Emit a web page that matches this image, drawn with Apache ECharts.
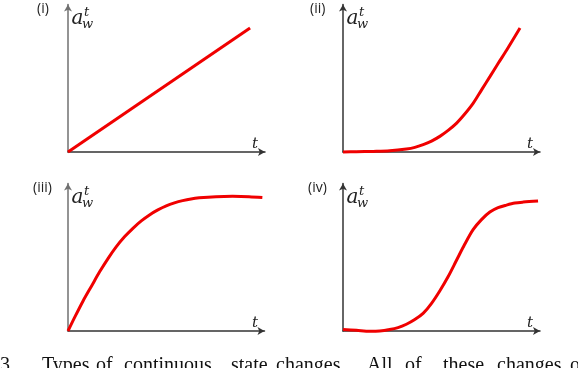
<!DOCTYPE html>
<html><head><meta charset="utf-8">
<script src="https://cdn.jsdelivr.net/npm/echarts@6/dist/echarts.min.js"></script>
<style>html,body{margin:0;padding:0;background:#fff}#c{width:578px;height:368px}</style>
</head><body><div id="c"></div>
<script>
// ---- data ----
const panelLabels = ['(i)', '(ii)', '(iii)', '(iv)'];
const xAxisName = 't';
// (i) linear
const p1T = [0, 10];
const p1A = [0, 1];
// (ii) accelerating
const p2T = [0, 0.75, 1.7, 2.64, 3.58, 4.06, 4.53, 5.0, 5.47, 5.94, 6.42, 6.89, 7.36, 7.83, 8.30, 8.77, 9.25, 10];
const p2A = [0, 0.002, 0.005, 0.010, 0.024, 0.037, 0.059, 0.088, 0.126, 0.174, 0.233, 0.308, 0.394, 0.501, 0.608, 0.716, 0.823, 1.0];
// (iii) saturating
const p3T = [0, 0.36, 0.78, 1.21, 1.63, 2.06, 2.48, 2.91, 3.33, 3.76, 4.18, 4.61, 5.04, 5.46, 5.88, 6.31, 6.73, 7.59, 8.44, 9.29, 9.97];
const p3A = [0, 0.107, 0.226, 0.336, 0.443, 0.542, 0.629, 0.704, 0.766, 0.821, 0.866, 0.903, 0.933, 0.955, 0.972, 0.985, 0.993, 1.002, 1.005, 1.002, 0.995];
// (iv) sigmoid
const p4T = [0, 0.69, 1.37, 1.88, 2.39, 2.82, 3.25, 3.68, 4.12, 4.53, 4.96, 5.40, 5.82, 6.24, 6.67, 7.10, 7.53, 7.95, 8.38, 8.81, 9.24, 10];
const p4A = [0.011, 0.005, -0.002, 0.0, 0.011, 0.026, 0.052, 0.088, 0.138, 0.211, 0.308, 0.421, 0.544, 0.667, 0.78, 0.857, 0.915, 0.949, 0.969, 0.985, 0.992, 1.0];
const captionWords = ['3', 'Types', 'of', 'continuous', 'state', 'changes.', 'All', 'of', 'these', 'changes', 'o'];

// ---- layout ----
const panels = [
  {t: p1T, a: p1A, ox: 68,  oy: 152, w: 197, h: 147.5, xmax: 10.82, ymax: 1.19, yCol: '#707070', xCol: '#333'},
  {t: p2T, a: p2A, ox: 343, oy: 152, w: 197, h: 147.5, xmax: 11.13, ymax: 1.19, yCol: '#333',    xCol: '#333'},
  {t: p3T, a: p3A, ox: 68,  oy: 331, w: 196.5, h: 147.5, xmax: 10.08, ymax: 1.10, yCol: '#707070', xCol: '#333'},
  {t: p4T, a: p4A, ox: 343, oy: 331, w: 197, h: 147.5, xmax: 10.1, ymax: 1.135, yCol: '#333',    xCol: '#333'}
];
const labelPos = [[37, 2], [310, 2], [33, 181], [308, 181]];
const captionX = [0, 42, 96, 124, 231, 276, 367, 405, 443, 497, 570];

const grid = [], xAxis = [], yAxis = [], series = [], graphic = [];
panels.forEach((p, i) => {
  grid.push({left: p.ox, top: p.oy - p.h, width: p.w, height: p.h});
  const common = {type: 'value', min: 0, axisTick: {show: false}, axisLabel: {show: false}, splitLine: {show: false}};
  xAxis.push(Object.assign({}, common, {gridIndex: i, max: p.xmax,
    axisLine: {show: true, symbol: ['none', 'arrow'], symbolSize: [6, 7], lineStyle: {color: p.xCol, width: 1.5}}}));
  yAxis.push(Object.assign({}, common, {gridIndex: i, max: p.ymax,
    axisLine: {show: true, symbol: ['none', 'arrow'], symbolSize: [6, 7], lineStyle: {color: p.yCol, width: 1.5}}}));
  series.push({type: 'line', xAxisIndex: i, yAxisIndex: i, smooth: 0.3, showSymbol: false, clip: false,
    data: p.t.map((t, k) => [t, p.a[k]]), lineStyle: {color: '#f00000', width: 3}, z: 5});
  // panel label
  graphic.push({type: 'text', x: labelPos[i][0], y: labelPos[i][1],
    style: {text: panelLabels[i], font: '14px "Open Sans", sans-serif', fill: '#222', align: 'left', verticalAlign: 'top'}});
  // y axis name a_w^t
  const top = p.oy - p.h - 3.5;
  graphic.push({type: 'text', x: p.ox + 3.5, y: top + 28,
    style: {text: 'a', font: 'italic 20px "DejaVu Serif", serif', fill: '#222', align: 'left', verticalAlign: 'bottom'}});
  graphic.push({type: 'text', x: p.ox + 14, y: top + 30.5,
    style: {text: 'w', font: 'italic 13px "DejaVu Serif", serif', fill: '#222', align: 'left', verticalAlign: 'bottom'}});
  graphic.push({type: 'text', x: p.ox + 16, y: top + 18,
    style: {text: 't', font: 'italic 13px "DejaVu Serif", serif', fill: '#222', align: 'left', verticalAlign: 'bottom'}});
  // x axis name
  graphic.push({type: 'text', x: p.ox + 184, y: p.oy,
    style: {text: xAxisName, font: 'italic 15px "DejaVu Serif", serif', fill: '#222', align: 'left', verticalAlign: 'bottom'}});
});
captionWords.forEach((wd, k) => {
  graphic.push({type: 'text', x: captionX[k], y: 376,
    style: {text: wd, font: '20px "Liberation Serif", serif', fill: '#111', align: 'left', verticalAlign: 'bottom'}});
});

const chart = echarts.init(document.getElementById('c'), null, {renderer: 'canvas'});
chart.setOption({animation: false, grid, xAxis, yAxis, series, graphic});
</script></body></html>
